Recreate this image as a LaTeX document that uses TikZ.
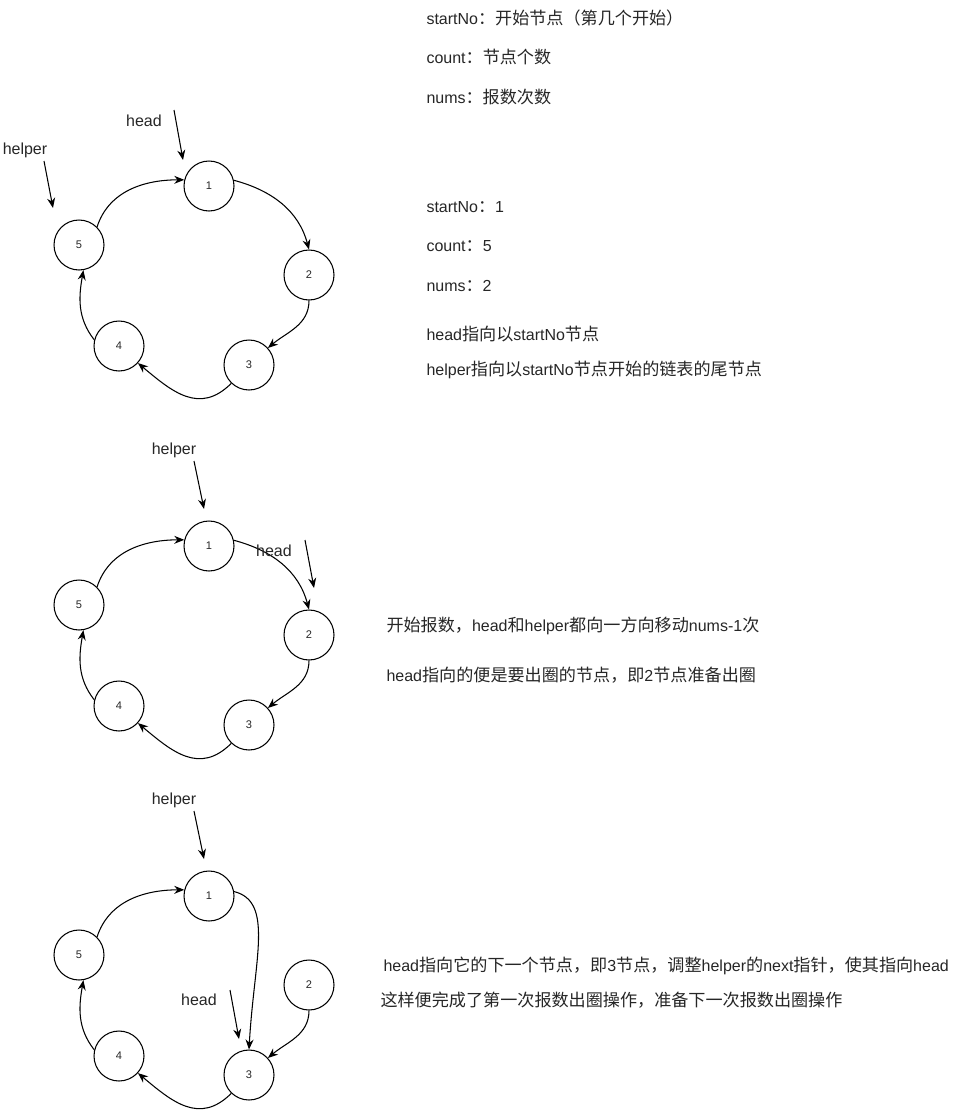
\documentclass[tikz,border=0pt]{standalone}
\usepackage{fontspec}
\setmainfont{Liberation Sans}
\newfontfamily\zhfont[Scale=1.07]{Noto Sans CJK SC}
\newcommand{\zh}[1]{{\zhfont #1}}
\usetikzlibrary{arrows.meta}

\begin{document}
\begin{tikzpicture}[x=0.02cm, y=-0.02cm, >={Stealth[length=2mm, width=1.6mm]}, line width=0.6pt,
  every node/.style={font=\fontsize{9.1pt}{11pt}\selectfont, text=black!85},
  ring/.style={draw, circle, minimum size=1cm, inner sep=0pt, font=\fontsize{6.3pt}{7pt}\selectfont},
  note/.style={anchor=west, inner sep=0pt}]
  \useasboundingbox (0,0) rectangle (965,1112);

  \foreach \r/\dy in {a/0, b/360, c/710} {
    \node[ring] (\r1) at (209,186+\dy) {1};
    \node[ring] (\r2) at (309,275+\dy) {2};
    \node[ring] (\r3) at (249,365+\dy) {3};
    \node[ring] (\r4) at (119,346+\dy) {4};
    \node[ring] (\r5) at (79,245+\dy) {5};
    \draw[->] (\r5.45) to[out=72, in=180] (\r1.166);
    \draw[->] (\r2.south) to[out=-90, in=40] (\r3.42);
    \draw[->] (\r3.-134) to[out=-135, in=-40, looseness=1.2] (\r4.-42);
    \draw[->] (\r4.166) to[out=128, in=-100] (\r5.-80);
  }
  \draw[->] (a1.13) to[out=-15, in=105] (a2.north);
  \draw[->] (b1.13) to[out=-15, in=105] (b2.north);
  \draw[->] (c1.10) .. controls +(40,10) and +(5,-90) .. (c3.north);

  % pointers
  \node (headA) at (144,121) {head};
  \node (helperA) at (25,150) {helper};
  \coordinate (hdA0) at (174,110); \coordinate (hdA1) at (183,160);
  \coordinate (hpA0) at (44,161); \coordinate (hpA1) at (53,208);
  \draw[->] (hdA0) -- (hdA1);
  \draw[->] (hpA0) -- (hpA1);

  \node (helperB) at (174,450) {helper};
  \node (headB) at (274,551) {head};
  \coordinate (hpB0) at (194,461); \coordinate (hpB1) at (204,509);
  \coordinate (hdB0) at (305,540); \coordinate (hdB1) at (314,588);
  \draw[->] (hpB0) -- (hpB1);
  \draw[->] (hdB0) -- (hdB1);

  \node (helperC) at (174,800) {helper};
  \node (headC) at (199,1000) {head};
  \coordinate (hpC0) at (194,811); \coordinate (hpC1) at (204,859);
  \coordinate (hdC0) at (230,990); \coordinate (hdC1) at (239,1039);
  \draw[->] (hpC0) -- (hpC1);
  \draw[->] (hdC0) -- (hdC1);

  % notes
  \node[note] (defStart) at (426,18) {startNo\zh{：开始节点（第几个开始）}};
  \node[note] (defCount) at (426,57) {count\zh{：节点个数}};
  \node[note] (defNums) at (426,97) {nums\zh{：报数次数}};
  \node[note] (valStart) at (426,207) {startNo\zh{：}1};
  \node[note] (valCount) at (426,246) {count\zh{：}5};
  \node[note] (valNums) at (426,286) {nums\zh{：}2};
  \node[note] (initHead) at (426,334) {head\zh{指向以}startNo\zh{节点}};
  \node[note] (initHelper) at (426,370) {helper\zh{指向以}startNo\zh{节点开始的链表的尾节点}};
  \node[note] (moveA) at (386,626) {\zh{开始报数，}head\zh{和}helper\zh{都向一方向移动}nums-1\zh{次}};
  \node[note] (moveB) at (386,675) {head\zh{指向的便是要出圈的节点，即}2\zh{节点准备出圈}};
  \node[note] (outA) at (383,966) {head\zh{指向它的下一个节点，即}3\zh{节点，调整}helper\zh{的}next\zh{指针，使其指向}head};
  \node[note] (outB) at (380,1000) {\zh{这样便完成了第一次报数出圈操作，准备下一次报数出圈操作}};
\end{tikzpicture}
\end{document}
